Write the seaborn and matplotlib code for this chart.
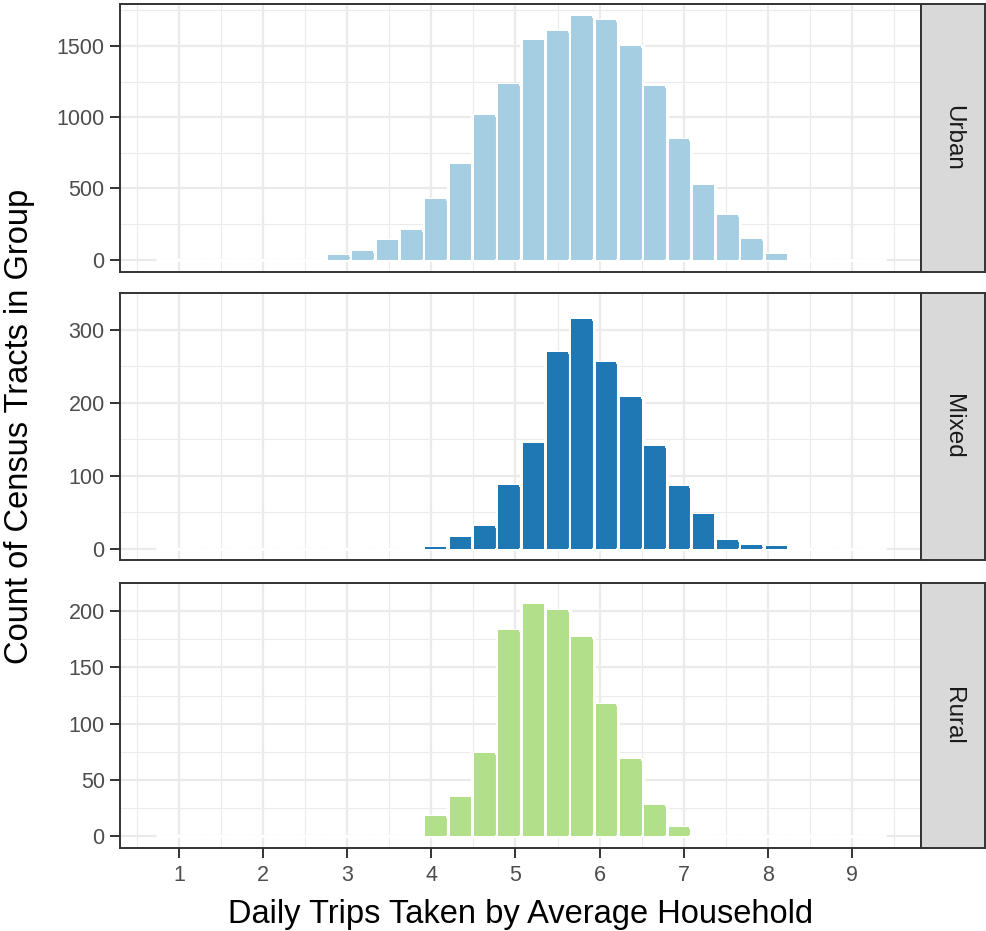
import matplotlib
matplotlib.use('Agg')
import matplotlib.pyplot as plt
import seaborn as sns
import numpy as np
import pandas as pd

# ---- data (counts per histogram bin, 30 bins shared by all facets) ----
groups = ['Urban', 'Mixed', 'Rural']
bin_start = 0.73
bin_width = 0.289
urban_counts = [0, 0, 0, 0, 0, 0, 2, 35, 59, 141, 212, 425, 675, 1014, 1231, 1540,
                1601, 1708, 1684, 1502, 1219, 849, 528, 314, 149, 40, 0, 0, 0, 0]
mixed_counts = [0, 0, 0, 0, 0, 0, 0, 0, 0, 0, 0, 2, 16, 31, 87, 145, 269, 314,
                255, 208, 141, 85, 47, 12, 5, 3, 0, 0, 0, 0]
rural_counts = [0, 0, 0, 0, 0, 0, 0, 0, 0, 0, 0, 18, 35, 74, 183, 206, 201, 177,
                118, 69, 28, 8, 0, 0, 0, 0, 0, 0, 0, 0]
x_ticks = [1, 2, 3, 4, 5, 6, 7, 8, 9]
y_ticks = {'Urban': [0, 500, 1000, 1500],
           'Mixed': [0, 100, 200, 300],
           'Rural': [0, 50, 100, 150, 200]}
colors = {'Urban': '#A6CEE3', 'Mixed': '#1F78B4', 'Rural': '#B2DF8A'}
x_title = 'Daily Trips Taken by Average Household'
y_title = 'Count of Census Tracts in Group'

sns.set_theme(style='white')
plt.rcParams['font.family'] = ['Liberation Sans', 'DejaVu Sans']

edges = [float(v) for v in bin_start + bin_width * np.arange(31)]
centers = [(edges[i] + edges[i + 1]) / 2 for i in range(30)]
df = pd.DataFrame({
    'group': np.repeat(groups, 30),
    'center': np.tile(centers, 3),
    'count': urban_counts + mixed_counts + rural_counts,
})

W, H = 986, 931
fig = plt.figure(figsize=(W / 100, H / 100), dpi=100)
fig.patch.set_facecolor('white')
panel_px = {'Urban': (4, 272), 'Mixed': (293, 560), 'Rural': (583, 848)}
left_px, right_px, strip_right = 120, 921, 985
border = '#333333'
grid_c = '#EBEBEB'

for g in groups:
    top, bot = panel_px[g]
    ax = fig.add_axes([left_px / W, 1 - bot / H, (right_px - left_px) / W, (bot - top) / H])
    ax.set_facecolor('white')
    ax.set_axisbelow(True)
    sub = df[df['group'] == g].reset_index(drop=True)
    # white outlines (also hide the zero line under empty bins)
    sns.histplot(data=sub, x='center', weights='count', bins=edges,
                 color=colors[g], edgecolor='white', linewidth=2.2, alpha=1,
                 ax=ax)
    # fills, kept visible even for very small counts
    sns.histplot(data=sub, x='center', weights='count', bins=edges,
                 color=colors[g], linewidth=0, shrink=0.86, alpha=1,
                 ax=ax)
    ymax = sub['count'].max()
    ax.set_ylim(-0.05 * ymax, 1.05 * ymax)
    ax.set_xlim(0.30, 9.82)
    yt = y_ticks[g]
    step = yt[1] - yt[0]
    ax.set_yticks(yt)
    ax.set_yticks([v + step / 2 for v in yt], minor=True)
    ax.set_xticks(x_ticks)
    ax.set_xticks([v - 0.5 for v in x_ticks] + [x_ticks[-1] + 0.5], minor=True)
    ax.grid(which='major', color=grid_c, linewidth=1.6)
    ax.grid(which='minor', color=grid_c, linewidth=0.8)
    ax.set_xlabel('')
    ax.set_ylabel('')
    for s in ax.spines.values():
        s.set_color(border)
        s.set_linewidth(1.4)
    ax.tick_params(which='minor', length=0)
    ax.tick_params(axis='y', which='major', direction='out', length=7, width=1.4,
                   color=border, labelcolor='#4D4D4D', labelsize=15.5, pad=4, left=True)
    if g == 'Rural':
        ax.tick_params(axis='x', which='major', direction='out', length=7, width=1.4,
                       color=border, labelcolor='#4D4D4D', labelsize=15.5, pad=5, bottom=True)
    else:
        ax.tick_params(axis='x', which='major', length=0, labelbottom=False)

    sax = fig.add_axes([right_px / W, 1 - bot / H, (strip_right - right_px) / W, (bot - top) / H])
    sax.set_facecolor('#D9D9D9')
    sax.set_xticks([])
    sax.set_yticks([])
    for s in sax.spines.values():
        s.set_color(border)
        s.set_linewidth(1.4)
    sax.text(0.5, 0.5, g, rotation=270, ha='center', va='center',
             fontsize=17.5, color='#1A1A1A', transform=sax.transAxes)

fig.text((left_px + right_px) / 2 / W, 1 - 914 / H, x_title,
         ha='center', va='center', fontsize=23.5, color='black')
fig.text(20 / W, 1 - ((4 + 848) / 2) / H, y_title, rotation=90,
         ha='center', va='center', fontsize=23.5, color='black')

fig.savefig('out.png', dpi=100, facecolor='white')
